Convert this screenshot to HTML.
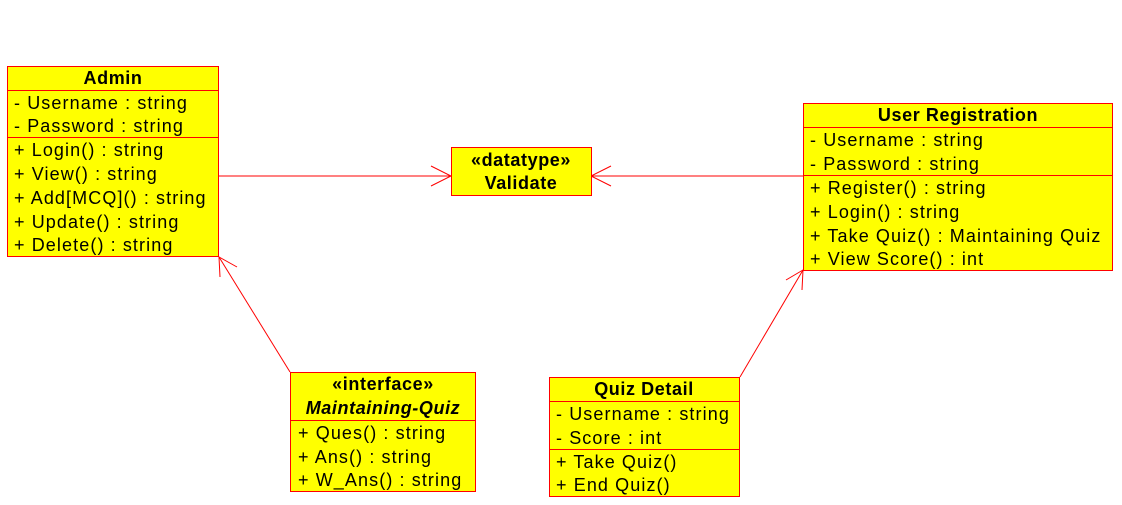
<!DOCTYPE html>
<html><head><meta charset="utf-8"><style>
html,body{margin:0;padding:0;background:#fff;}
svg{display:block;}
text{font-family:"Liberation Sans",Arial,sans-serif;font-size:18px;fill:#000;letter-spacing:1.1px;}
.b{font-weight:bold;letter-spacing:0.6px;}
</style></head><body>
<svg width="1122" height="505" viewBox="0 0 1122 505" xmlns="http://www.w3.org/2000/svg">
<g stroke="#ff0000" stroke-width="1" fill="none">
<line x1="219" y1="176" x2="451" y2="176"/>
<polyline points="431,166 451,176 431,186"/>
<line x1="803" y1="176" x2="591" y2="176"/>
<polyline points="611,166 591,176 611,186"/>
<line x1="290" y1="372" x2="219" y2="257"/>
<polyline points="220,277 219,257 237,267"/>
<line x1="740" y1="377" x2="803" y2="270"/>
<polyline points="786,280 803,270 802,290"/>
</g>
<g fill="#ffff00" stroke="#ff0000" stroke-width="1">
<rect x="7.5" y="66.5" width="211" height="190"/>
<rect x="451.5" y="147.5" width="140" height="48"/>
<rect x="803.5" y="103.5" width="309" height="167"/>
<rect x="290.5" y="372.5" width="185" height="119"/>
<rect x="549.5" y="377.5" width="190" height="119"/>
</g>
<g stroke="#ff0000" stroke-width="1">
<line x1="7" y1="90.5" x2="219" y2="90.5"/>
<line x1="7" y1="137.5" x2="219" y2="137.5"/>
<line x1="803" y1="127.5" x2="1113" y2="127.5"/>
<line x1="803" y1="175.5" x2="1113" y2="175.5"/>
<line x1="290" y1="420.5" x2="476" y2="420.5"/>
<line x1="549" y1="401.5" x2="740" y2="401.5"/>
<line x1="549" y1="449.5" x2="740" y2="449.5"/>
</g>
<text x="113" y="84" text-anchor="middle" class="b">Admin</text>
<text x="14" y="109">- Username : string</text>
<text x="14" y="132">- Password : string</text>
<text x="14" y="156">+ Login() : string</text>
<text x="14" y="180">+ View() : string</text>
<text x="14" y="204">+ Add[MCQ]() : string</text>
<text x="14" y="228">+ Update() : string</text>
<text x="14" y="251">+ Delete() : string</text>

<text x="521" y="166" text-anchor="middle" class="b">«datatype»</text>
<text x="521" y="189" text-anchor="middle" class="b">Validate</text>

<text x="958" y="121" text-anchor="middle" class="b">User Registration</text>
<text x="810" y="146">- Username : string</text>
<text x="810" y="170">- Password : string</text>
<text x="810" y="194">+ Register() : string</text>
<text x="810" y="218">+ Login() : string</text>
<text x="810" y="242">+ Take Quiz() : Maintaining Quiz</text>
<text x="810" y="265">+ View Score() : int</text>

<text x="383" y="390" text-anchor="middle" class="b">«interface»</text>
<text x="383" y="414" text-anchor="middle" class="b" font-style="italic">Maintaining-Quiz</text>
<text x="298" y="439">+ Ques() : string</text>
<text x="298" y="463">+ Ans() : string</text>
<text x="298" y="486">+ W_Ans() : string</text>

<text x="644" y="395" text-anchor="middle" class="b">Quiz Detail</text>
<text x="556" y="420">- Username : string</text>
<text x="556" y="444">- Score : int</text>
<text x="556" y="468">+ Take Quiz()</text>
<text x="556" y="491">+ End Quiz()</text>
</svg>
</body></html>
